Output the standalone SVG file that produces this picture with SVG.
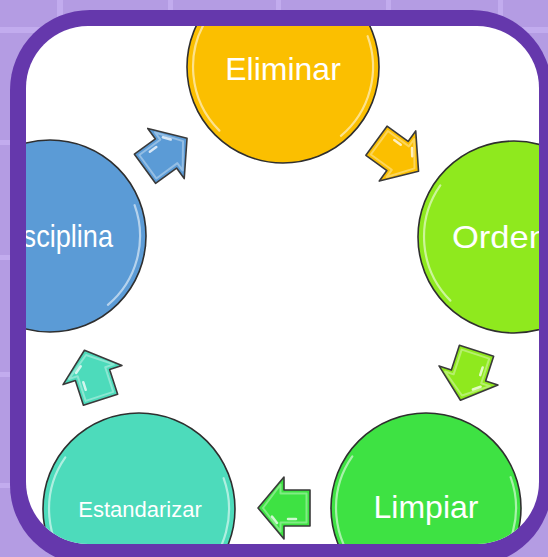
<svg xmlns="http://www.w3.org/2000/svg" width="548" height="557" viewBox="0 0 548 557">
<defs>
<style>
.bg{fill:#b49ce3}
.grid{fill:#c2acee}
.frame{fill:#6538ac}
.inner{fill:#ffffff}
.node circle{stroke:#2f2f2f;stroke-width:1.6}
.hl{fill:none;stroke:#ffffff;stroke-opacity:0.55;stroke-width:2.2;stroke-linecap:round}
.lbl{font-family:"Liberation Sans",Arial,sans-serif;fill:#ffffff;font-size:32px}
.arw{stroke:#3a3a3a;stroke-width:1.6;stroke-linejoin:round}
.ahl{fill:none;stroke:#ffffff;stroke-opacity:0.35;stroke-width:2;stroke-linejoin:round}
.ahs{fill:none;stroke:#ffffff;stroke-opacity:0.75;stroke-width:2.5;stroke-linecap:round}
.c-yellow{fill:#fbbf00}
.c-lime{fill:#8fe91e}
.c-green{fill:#3ee243}
.c-teal{fill:#4ddbbb}
.c-blue{fill:#5b9bd6}
</style>
<clipPath id="clip"><rect x="26" y="26" width="513" height="518" rx="62"/></clipPath>
<path id="arrow" d="M -26,-18 L 0,-18 L 0,-31 L 26,0 L 0,31 L 0,18 L -26,18 Z"/>
<g id="arrowHl"><path class="ahl" d="M -22.5,-14.5 L 3.5,-14.5 L 3.5,-23.5 L 21,0 L 3.5,23.5 L 3.5,14.5 L -22.5,14.5 Z"/><path class="ahs" d="M -12,-11 L -4,-11"/><path class="ahs" d="M 7,-15 L 12,-8.5"/></g>
<g id="rim" class="hl"><path d="M -63.6,63.6 A 90 90 0 0 1 -73.7,-51.6"/><path d="M 84.6,-30.8 A 90 90 0 0 1 57.9,68.9"/></g>
</defs>

<rect class="bg" x="0" y="0" width="548" height="557"/>
<g id="grid">
<rect class="grid" x="57" y="0" width="6" height="557"/>
<rect class="grid" x="168" y="0" width="5" height="557"/>
<rect class="grid" x="276" y="0" width="5" height="557"/>
<rect class="grid" x="386" y="0" width="5" height="557"/>
<rect class="grid" x="498" y="0" width="5" height="557"/>
<rect class="grid" x="0" y="27" width="548" height="6"/>
<rect class="grid" x="0" y="140" width="548" height="5"/>
<rect class="grid" x="0" y="255" width="548" height="5"/>
<rect class="grid" x="0" y="372" width="548" height="5"/>
<rect class="grid" x="0" y="483" width="548" height="5"/>
</g>
<rect class="frame" x="10" y="10" width="542" height="555" rx="80"/>
<rect class="inner" x="26" y="26" width="513" height="518" rx="62"/>

<g clip-path="url(#clip)">
<g id="connectors">
<g id="arrow-disciplina-eliminar" transform="translate(166,153.5) rotate(-36)"><use href="#arrow" class="arw c-blue"/><use href="#arrowHl"/></g>
<g id="arrow-eliminar-orden" transform="translate(397.5,156) rotate(36)"><use href="#arrow" class="arw c-yellow"/><use href="#arrowHl"/></g>
<g id="arrow-orden-limpiar" transform="translate(468.5,375.5) rotate(108)"><use href="#arrow" class="arw c-lime"/><use href="#arrowHl"/></g>
<g id="arrow-limpiar-estandarizar" transform="translate(284,508) rotate(180)"><use href="#arrow" class="arw c-green"/><use href="#arrowHl"/></g>
<g id="arrow-estandarizar-disciplina" transform="translate(92.5,375) rotate(-108)"><use href="#arrow" class="arw c-teal"/><use href="#arrowHl"/></g>
</g>

<g id="node-eliminar" class="node">
<circle class="c-yellow" cx="283" cy="67" r="96"/>
<use href="#rim" transform="translate(283,67)"/>
<text class="lbl" x="283" y="80" text-anchor="middle">Eliminar</text>
</g>
<g id="node-orden" class="node">
<circle class="c-lime" cx="514" cy="237" r="96"/>
<use href="#rim" transform="translate(514,237)"/>
<text class="lbl" x="452" y="248" textLength="96" lengthAdjust="spacingAndGlyphs">Orden</text>
</g>
<g id="node-limpiar" class="node">
<circle class="c-green" cx="426" cy="508" r="95"/>
<use href="#rim" transform="translate(426,508)"/>
<text class="lbl" x="426" y="518" text-anchor="middle">Limpiar</text>
</g>
<g id="node-estandarizar" class="node">
<circle class="c-teal" cx="139" cy="509" r="96"/>
<use href="#rim" transform="translate(139,509)"/>
<text class="lbl" x="140" y="517" text-anchor="middle" style="font-size:22px">Estandarizar</text>
</g>
<g id="node-disciplina" class="node">
<circle class="c-blue" cx="50" cy="236" r="96"/>
<use href="#rim" transform="translate(50,236)"/>
<text class="lbl" x="-3" y="247" textLength="116" lengthAdjust="spacingAndGlyphs">Disciplina</text>
</g>
</g>
</svg>
